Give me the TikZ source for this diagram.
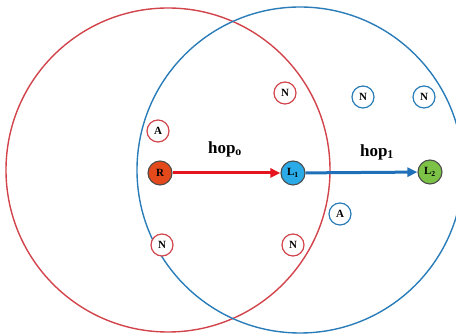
\documentclass[tikz,border=0pt]{standalone}
\usepackage{fontspec}
\setmainfont{Liberation Serif}
\usetikzlibrary{arrows.meta}
\definecolor{cred}{HTML}{D2444B}
\definecolor{cblue}{HTML}{2A7DB8}
\definecolor{ared}{HTML}{E5141E}
\definecolor{ablue}{HTML}{1F70B8}
\definecolor{fR}{HTML}{E4491C}
\definecolor{fL}{HTML}{2AAAE6}
\definecolor{fG}{HTML}{7CC246}
\tikzset{
  rangecircle/.style={line width=1.4pt},
  plain/.style={circle,draw,line width=1.2pt,fill=white,minimum size=22pt,inner sep=0pt,font=\fontsize{11}{11}\selectfont\bfseries},
  key/.style={circle,draw=black!70,line width=1.1pt,minimum size=24pt,inner sep=0pt,font=\fontsize{11}{11}\selectfont\bfseries},
  hoparrow/.style={line width=3pt,-{Triangle[length=10pt,width=9pt]}},
  hoplabel/.style={font=\fontsize{17}{17}\selectfont\bfseries}
}
\begin{document}
\begin{tikzpicture}[x=1pt,y=-1pt]
\useasboundingbox (0,0) rectangle (456,336);
\clip (0,0) rectangle (456,336);
\draw[rangecircle,cred] (168,170) circle[radius=162];
\draw[rangecircle,cblue] (300,170) circle[radius=163];
\node[key,fill=fR] (R) at (160,173) {R};
\node[key,fill=fL] (L1) at (293,173) {L\textsubscript{1}};
\node[key,fill=fG] (L2) at (430,172) {L\textsubscript{2}};
\node[plain,draw=cred] (A1) at (158,131) {A};
\node[plain,draw=cred] (N1) at (285,93) {N};
\node[plain,draw=cblue] (N2) at (363,97) {N};
\node[plain,draw=cblue] (N3) at (424,97) {N};
\node[plain,draw=cblue] (A2) at (340,214) {A};
\node[plain,draw=cred] (N4) at (162,245) {N};
\node[plain,draw=cred] (N5) at (293,245) {N};
\draw[hoparrow,ared] (R) -- (L1);
\draw[hoparrow,ablue] (L1) -- (L2);
\node[hoplabel] (h0) at (225,149) {hop\textsubscript{o}};
\node[hoplabel] (h1) at (377,152) {hop\textsubscript{1}};
\end{tikzpicture}
\end{document}
